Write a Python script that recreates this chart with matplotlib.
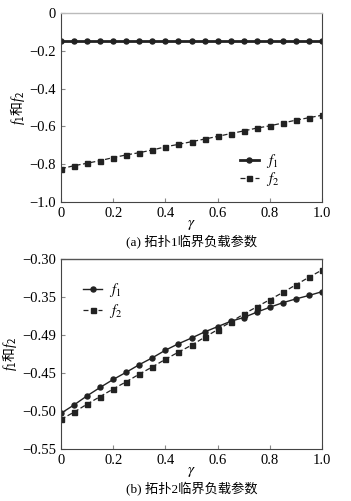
import numpy as np
import matplotlib
matplotlib.use('Agg')
from matplotlib import pyplot as plt
from matplotlib.font_manager import FontProperties

plt.rcParams['font.family'] = ['Liberation Serif', 'Noto Sans CJK SC']
plt.rcParams['mathtext.fontset'] = 'custom'
plt.rcParams['mathtext.rm'] = 'Noto Sans CJK SC'
plt.rcParams['mathtext.it'] = 'Liberation Serif:italic'

gamma = [0.0, 0.05, 0.1, 0.15, 0.2, 0.25, 0.3, 0.35, 0.4, 0.45, 0.5,
         0.55, 0.6, 0.65, 0.7, 0.75, 0.8, 0.85, 0.9, 0.95, 1.0]

# topology 1
a_f1 = [-0.147] * 21
a_f2 = [-0.824, -0.808, -0.795, -0.781, -0.765, -0.751, -0.739, -0.725,
        -0.708, -0.695, -0.681, -0.667, -0.653, -0.638, -0.624, -0.609,
        -0.597, -0.582, -0.567, -0.554, -0.541]

# topology 2
b_f1 = [-0.503, -0.492, -0.480, -0.469, -0.4585, -0.449, -0.439, -0.430,
        -0.420, -0.4115, -0.404, -0.396, -0.389, -0.382, -0.377, -0.370,
        -0.3635, -0.3575, -0.3525, -0.348, -0.343]
b_f2 = [-0.511, -0.5015, -0.491, -0.481, -0.471, -0.4615, -0.4515, -0.442,
        -0.432, -0.4225, -0.4135, -0.403, -0.393, -0.383, -0.3725, -0.363,
        -0.3535, -0.344, -0.334, -0.324, -0.3145]

a_yticks = [0, -0.2, -0.4, -0.6, -0.8, -1.0]
a_ylabels = ['0', '\u22120.2', '\u22120.4', '\u22120.6', '\u22120.8', '\u22121.0']
b_yticks = [-0.30, -0.35, -0.40, -0.45, -0.50, -0.55]
b_ylabels = ['\u22120.30', '\u22120.35', '\u22120.49', '\u22120.45', '\u22120.50', '\u22120.55']
xticks = [0, 0.2, 0.4, 0.6, 0.8, 1.0]
xlabels = ['0', '0.2', '0.4', '0.6', '0.8', '1.0']


def draw(ax, f1, f2, yticks, ylabels, ylim, legend_loc, spacing, caption,
         topcolor, f1_lw):
    ax.plot(gamma, f1, '-', color='#222222', lw=f1_lw,
            marker='o', ms=3.6, label='$f_1$')
    ax.plot(gamma, f2, '--', color='#222222', lw=0.9, dashes=(4, 2),
            marker='s', ms=3.6, label='$f_2$')
    ax.set_xlim(0, 1.0)
    ax.set_ylim(*ylim)
    ax.set_xticks(xticks)
    ax.set_xticklabels(xlabels)
    ax.set_yticks(yticks)
    ax.set_yticklabels(ylabels)
    ax.tick_params(direction='in', length=3, labelsize=10.5, color='#888888')
    for s in ['left', 'bottom', 'right']:
        ax.spines[s].set_color('#444444')
        ax.spines[s].set_linewidth(0.8)
    ax.spines['top'].set_color(topcolor)
    ax.spines['top'].set_linewidth(1.0)
    ax.set_xlabel('$\\gamma$', labelpad=-1,
                  fontproperties=FontProperties(size=11, math_fontfamily='stix'))
    ax.set_ylabel('$f_1\\mathrm{和}f_2$', fontsize=10, labelpad=2)
    ax.legend(loc='center', bbox_to_anchor=legend_loc, frameon=False,
              prop=FontProperties(size=10.5, math_fontfamily='stix'),
              handlelength=1.3, handletextpad=0.5, labelspacing=spacing)
    ax.text(0.5, -0.207, caption, transform=ax.transAxes, ha='center',
            va='center', fontsize=9.5)


fig = plt.figure(figsize=(3.51, 5.01), dpi=100)
ax1 = fig.add_axes([61 / 351, 1 - 202 / 501, 261 / 351, 189 / 501])
ax2 = fig.add_axes([61 / 351, 1 - 449 / 501, 261 / 351, 190 / 501])

draw(ax1, a_f1, a_f2, a_yticks, a_ylabels, (-1.0, 0), (0.76, 0.17), 0.0,
     '(a) 拓扑1临界负载参数', '#bbbbbb', 2.0)
draw(ax2, b_f1, b_f2, b_yticks, b_ylabels, (-0.55, -0.30), (0.16, 0.78), 0.2,
     '(b) 拓扑2临界负载参数', '#555555', 1.0)

fig.savefig('out.png', dpi=100)
